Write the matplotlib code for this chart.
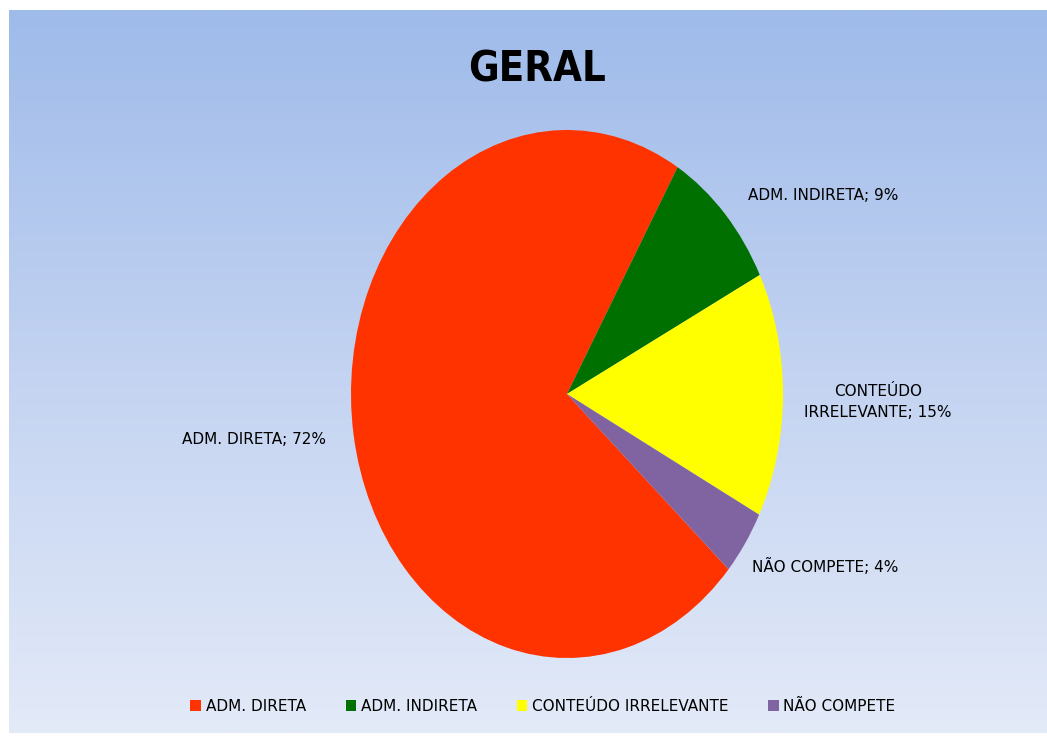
import numpy as np
import matplotlib.pyplot as plt
from matplotlib.colors import LinearSegmentedColormap

# dados do gráfico
categorias = ['ADM. DIRETA', 'ADM. INDIRETA', 'CONTEÚDO IRRELEVANTE', 'NÃO COMPETE']
percentuais = [72, 9, 15, 4]
cores = ['#FF3300', '#007000', '#FFFF00', '#8064A2']
rotulos = ['ADM. DIRETA; 72%', 'ADM. INDIRETA; 9%', 'CONTEÚDO\nIRRELEVANTE; 15%', 'NÃO COMPETE; 4%']

plt.rcParams['font.family'] = ['Liberation Sans Narrow', 'DejaVu Sans']

W, H = 1047, 738
fig = plt.figure(figsize=(W / 100, H / 100), dpi=100)
fig.patch.set_facecolor('white')

# fundo em degradê
bg = fig.add_axes([9 / W, 5 / H, (W - 9) / W, (733 - 10) / H])
bg.set_axis_off()
grad = np.linspace(0, 1, 256).reshape(-1, 1)
cmap = LinearSegmentedColormap.from_list('fundo', ['#9FBBEA', '#C3D3F1', '#E3EAF8'])
bg.imshow(grad, aspect='auto', cmap=cmap, extent=[0, 1, 0, 1], origin='upper')

# pizza (elíptica)
cx, cy, rx, ry = 567, 394, 216, 264
ax = fig.add_axes([(cx - rx) / W, (H - cy - ry) / H, 2 * rx / W, 2 * ry / H])
ax.set_axis_off()
inicio = 90 - (30.8 - 360 * percentuais[0] / 100)
wedges, _ = ax.pie(percentuais, colors=cores, startangle=inicio, counterclock=False,
                   wedgeprops=dict(linewidth=0))
ax.set_xlim(-1, 1)
ax.set_ylim(-1, 1)
ax.set_aspect('auto')

# rótulos das fatias
pos_rotulos = [(-1.449, -0.174), (1.185, 0.75), (1.44, -0.03), (1.194, -0.655)]
for txt, (x, y) in zip(rotulos, pos_rotulos):
    ax.text(x, y, txt, ha='center', va='center', fontsize=11, color='black',
            linespacing=1.5, clip_on=False)

fig.text(537 / W, 1 - 70 / H, 'GERAL', ha='center', va='center', fontsize=30,
         fontweight='bold', fontstretch='condensed', family='DejaVu Sans',
         color='black')

fig.legend(wedges, categorias, loc='center', bbox_to_anchor=(543 / W, 1 - 706 / H),
           ncol=4, frameon=False, fontsize=11, handlelength=0.7, handleheight=0.7,
           handletextpad=0.3, columnspacing=2.6)

fig.savefig('out.png', dpi=100)
